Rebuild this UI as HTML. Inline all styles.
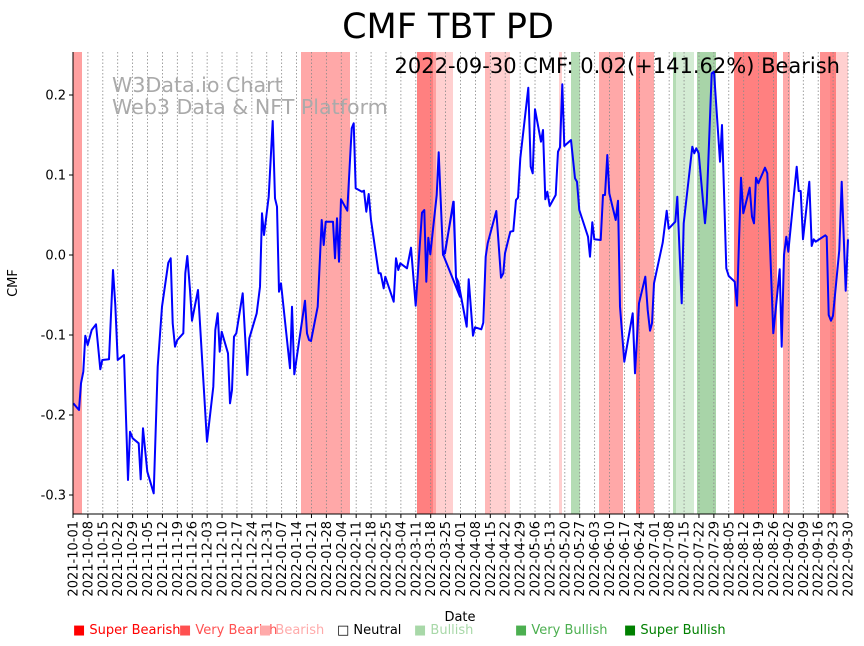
<!DOCTYPE html>
<html><head><meta charset="utf-8"><style>body{margin:0;background:#fff}svg{display:block;font-family:"DejaVu Sans","Liberation Sans",sans-serif}</style></head>
<body>
<svg id="s" width="864" height="646" xmlns="http://www.w3.org/2000/svg">
<rect width="864" height="646" fill="#fff"/>
<g id="bands">
<rect x="73" y="52" width="9" height="462" fill="#ffa0a0"/>
<rect x="301" y="52" width="49" height="462" fill="#ffa8a8"/>
<rect x="417" y="52" width="16" height="462" fill="#ff8080"/>
<rect x="433" y="52" width="3" height="462" fill="#ffa0a0"/>
<rect x="436" y="52" width="17" height="462" fill="#ffd0d0"/>
<rect x="485" y="52" width="5" height="462" fill="#ffb8b8"/>
<rect x="490" y="52" width="20" height="462" fill="#ffd0d0"/>
<rect x="559" y="52" width="3" height="462" fill="#ffd0d0"/>
<rect x="571" y="52" width="9" height="462" fill="#b4dcb4"/>
<rect x="599" y="52" width="24" height="462" fill="#ffa8a8"/>
<rect x="636" y="52" width="4" height="462" fill="#ff8080"/>
<rect x="640" y="52" width="14" height="462" fill="#ffa8a8"/>
<rect x="673" y="52" width="3" height="462" fill="#b4dcb4"/>
<rect x="676" y="52" width="18" height="462" fill="#d4ecd4"/>
<rect x="697" y="52" width="19" height="462" fill="#a8d4a8"/>
<rect x="734" y="52" width="43" height="462" fill="#ff8080"/>
<rect x="783" y="52" width="7" height="462" fill="#ffa8a8"/>
<rect x="820" y="52" width="10" height="462" fill="#ff9090"/>
<rect x="830" y="52" width="6" height="462" fill="#ff8080"/>
<rect x="836" y="52" width="12" height="462" fill="#ffd0d0"/>
</g>
<g id="grid"></g>
<polyline id="line" fill="none" stroke="#0000ff" stroke-width="2" stroke-linejoin="round"/>
<line x1="73" y1="52" x2="73" y2="514" stroke="#000"/>
<line x1="73" y1="514" x2="848" y2="514" stroke="#000"/>
<g id="yt" font-size="13" text-anchor="end"></g>
<g id="xt" font-size="13"></g>
<text x="17" y="283" font-size="13" text-anchor="middle" transform="rotate(-90 17 283)">CMF</text>
<text x="460" y="621" font-size="13" text-anchor="middle">Date</text>
<text x="448" y="38" font-size="35" text-anchor="middle">CMF TBT PD</text>
<text x="840" y="73" font-size="21" text-anchor="end">2022-09-30 CMF: 0.02(+141.62%) Bearish</text>
<text x="112" y="92" font-size="20.6" fill="#aaaaaa">W3Data.io Chart</text>
<text x="112" y="114" font-size="20.6" fill="#aaaaaa">Web3 Data &amp; NFT Platform</text>
<g font-size="13">
<text x="73" y="634" fill="#ff0000">■ Super Bearish</text>
<text x="179" y="634" fill="#ff5050">■ Very Bearish</text>
<text x="259" y="634" fill="#ffaaaa">■ Bearish</text>
<text x="337" y="634" fill="#000">□ Neutral</text>
<text x="414" y="634" fill="#a8d8a8">■ Bullish</text>
<text x="515" y="634" fill="#4caf50">■ Very Bullish</text>
<text x="624" y="634" fill="#008000">■ Super Bullish</text>
</g>
</svg>
<script>
var NS="http://www.w3.org/2000/svg";
function el(t,a,p,txt){var e=document.createElementNS(NS,t);for(var k in a)e.setAttribute(k,a[k]);if(txt)e.textContent=txt;document.getElementById(p).appendChild(e);}
var start=new Date(Date.UTC(2021,9,1));
for(var i=0;i<53;i++){var d=new Date(start.getTime()+i*7*86400000);var x=73+i*7*775/364;
el("line",{x1:x,y1:52,x2:x,y2:514,stroke:"#888","stroke-width":"0.8","stroke-dasharray":"1.5,2"},"grid");
el("line",{x1:x,y1:514,x2:x,y2:518,stroke:"#000"},"grid");
var s=d.toISOString().slice(0,10);el("text",{x:x+4.5,y:521,"text-anchor":"end",transform:"rotate(-90 "+(x+4.5)+" 521)"},"xt",s);}
[0.2,0.1,0.0,-0.1,-0.2,-0.3].forEach(function(v){var y=255-v*800;el("line",{x1:69,y1:y,x2:73,y2:y,stroke:"#000"},"yt");el("text",{x:66,y:y+4.5},"yt",v.toFixed(1));});
var a=[[40,1090],[57,1110],[63,1030],[70,995],[76,887],[83,915],[95,870],[108,853],[121,988],[127,960],[147,958],[159,690],[166,795],[173,960],[192,945],[204,1320],[210,1175],[218,1195],[236,1210],[242,1318],[249,1165],[262,1295],[281,1360],[293,980],[306,800],[325,668],[332,655],[338,850],[345,920],[352,900],[370,880],[376,700],[382,648],[390,750],[396,842],[414,750],[438,1155],[441,1205],[460,1040],[466,870],[473,820],[479,935],[485,875],[504,940],[510,1090],[516,1050],[522,890],[529,880],[548,760],[562,1005],[568,895],[590,820],[600,740],[606,520],[612,585],[626,470],[638,243],[645,475],[651,500],[657,755],[663,730],[690,985],[696,800],[703,1003],[715,920],[735,782],[741,880],[747,900],[753,903],[773,800],[785,540],[791,615],[797,545],[819,545],[825,655],[831,535],[837,665],[843,478],[862,512],[875,265],[881,250],[887,445],[906,455],[912,452],[919,515],[926,462],[933,540],[956,700],[962,700],[971,745],[976,710],[1001,785],[1008,655],[1015,690],[1021,670],[1041,685],[1053,623],[1067,797],[1086,518],[1093,510],[1099,725],[1105,593],[1111,643],[1130,465],[1136,337],[1149,645],[1155,640],[1180,485],[1188,713],[1200,770]];
var b=[[10,645],[16,630],[41,485],[48,712],[55,725],[80,860],[86,718],[99,887],[105,862],[124,868],[130,848],[137,650],[143,610],[169,513],[183,713],[190,700],[195,640],[211,575],[220,573],[228,480],[234,473],[241,355],[265,143],[272,380],[278,400],[285,208],[303,305],[309,270],[316,478],[322,455],[329,498],[347,465],[354,335],[360,322],[367,133],[373,318],[393,300],[405,415],[411,425],[418,510],[444,590],[450,650],[457,547],[463,598],[482,600],[489,465],[495,465],[502,345],[508,460],[527,540],[534,482],[540,800],[553,965],[578,820],[585,1000],[597,790],[616,710],[623,810],[630,872],[636,850],[642,730],[668,608],[680,512],[686,566],[706,545],[712,470],[725,790],[731,550],[757,320],[763,340],[769,325],[776,340],[795,550],[800,490],[815,100],[822,95],[840,365],[846,255],[859,685],[866,708],[884,725],[891,797],[903,413],[910,520],[929,443],[936,530],[942,550],[948,413],[955,430],[975,383],[982,400],[1000,880],[1019,688],[1025,920],[1032,645],[1039,590],[1045,635],[1070,380],[1076,453],[1082,453],[1089,598],[1108,425],[1115,618],[1121,598],[1127,605],[1156,586],[1160,590],[1166,825],[1173,842],[1179,827],[1198,630],[1205,425],[1217,752],[1224,598]];
var pts=a.map(function(p){return (p[0]/3+60).toFixed(1)+","+(p[1]/3+40).toFixed(1)}).concat(b.map(function(p){return (p[0]/3+440).toFixed(1)+","+(p[1]/3+40).toFixed(1)}));
document.getElementById("line").setAttribute("points",pts.join(" "));
</script>
</body></html>
